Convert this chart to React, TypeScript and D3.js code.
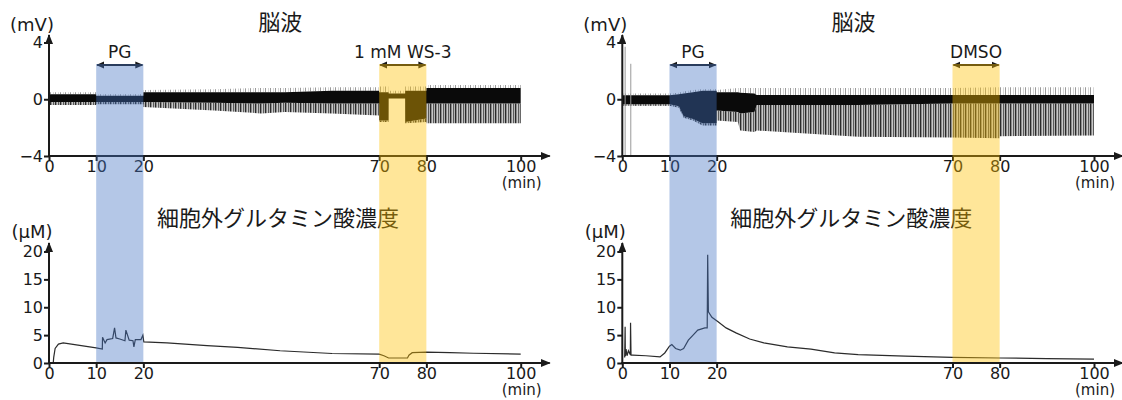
import React, { useRef, useEffect } from 'react';
import * as d3 from 'd3';

const W = 1122;
const H = 400;

// axis ticks
const minuteTicks = [0, 10, 20, 70, 80, 100];
const eegTicks = [-4, 0, 4];
const gluTicks = [0, 5, 10, 15, 20];

// treatment windows (min)
const pgWindow = [10, 20];
const drugWindow = [70, 80];
const drugLabels = ['1 mM WS-3', 'DMSO'];

// EEG envelope, left panel (mV)
const eegTimeL = [0, 10, 10.01, 20, 20.01, 35, 45, 50, 60, 70, 70.01, 72, 72.01, 75.5, 75.51, 80, 80.01, 100];
const eegCoreHiL = [0.35, 0.35, 0.25, 0.25, 0.5, 0.5, 0.5, 0.5, 0.6, 0.6, 0.5, 0.5, 0.4, 0.4, 0.6, 0.6, 0.8, 0.8];
const eegCoreLoL = [-0.2, -0.2, -0.2, -0.2, -0.2, -0.25, -0.3, -0.25, -0.3, -0.3, -1.5, -1.5, 0.05, 0.05, -1.6, -1.35, -0.3, -0.3];
const eegSpikeHiL = [0.5, 0.5, 0.35, 0.35, 0.65, 0.7, 0.8, 0.8, 0.85, 0.85, 0.9, 0.9, 0.6, 0.6, 0.9, 0.9, 1.0, 1.0];
const eegSpikeLoL = [-0.4, -0.4, -0.35, -0.35, -0.55, -0.8, -1.0, -0.9, -1.0, -1.15, -1.6, -1.6, 0.05, 0.05, -1.7, -1.6, -1.7, -1.7];

// EEG envelope, right panel (mV)
const eegTimeR = [0, 10, 12, 13, 15, 17, 20, 20.01, 24.5, 25, 28, 28.5, 50, 70, 80, 80.01, 100];
const eegCoreHiR = [0.28, 0.28, 0.35, 0.4, 0.5, 0.6, 0.6, 0.5, 0.5, 0.45, 0.4, 0.3, 0.3, 0.3, 0.3, 0.3, 0.3];
const eegCoreLoR = [-0.35, -0.35, -0.5, -1.2, -1.4, -1.7, -1.7, -0.8, -0.9, -1.0, -0.9, -0.4, -0.4, -0.3, -0.3, -0.3, -0.3];
const eegSpikeHiR = [0.4, 0.4, 0.45, 0.55, 0.65, 0.7, 0.7, 0.65, 0.8, 0.8, 0.8, 0.8, 0.8, 0.8, 0.85, 0.85, 0.85];
const eegSpikeLoR = [-0.45, -0.45, -0.6, -1.3, -1.5, -1.85, -1.85, -1.5, -1.6, -2.2, -2.3, -2.2, -2.65, -2.7, -2.75, -2.6, -2.55];

// isolated tall EEG artefacts, right panel
const artefactTimeR = [0.6, 1.8];
const artefactTopR = [3.7, 2.5];
const artefactBottomR = [-4, -4];

// extracellular glutamate (µM)
const gluTimeL = [0.9, 1.0, 1.3, 2, 3, 10, 11.3, 11.35, 11.9, 12.3, 13.5, 13.9, 14.2, 15, 16.1, 16.3, 17, 17.8, 18.0, 18.3, 19.5, 19.9, 20.1, 25, 33.5, 40, 49, 60, 70, 71, 72, 76, 76.3, 77, 80, 85, 90, 100];
const gluValL = [0.0, 1.0, 2.6, 3.4, 3.6, 2.7, 2.5, 4.6, 3.6, 4.2, 4.4, 6.3, 4.5, 4.3, 4.0, 5.9, 4.1, 4.0, 2.9, 4.2, 4.2, 5.0, 3.8, 3.6, 3.1, 2.8, 2.2, 1.7, 1.6, 1.3, 0.9, 0.9, 1.4, 1.85, 1.95, 1.85, 1.75, 1.6];

const gluTimeR = [0.5, 0.6, 0.65, 0.8, 1.0, 1.3, 1.7, 1.75, 1.85, 2.2, 5, 8, 9, 10, 10.5, 11.3, 12.3, 13, 14, 15, 16, 17.5, 18.0, 18.1, 18.25, 19, 20.3, 22, 24.1, 27, 30, 35, 40, 45, 50, 60, 70, 80, 90, 100];
const gluValR = [1.0, 6.5, 1.2, 2.5, 1.3, 2.2, 1.5, 7.2, 1.4, 1.4, 1.3, 1.1, 1.8, 3.0, 3.3, 2.6, 2.3, 2.6, 4.1, 5.0, 5.9, 6.3, 6.3, 19.4, 9.2, 8.2, 7.4, 6.3, 5.4, 4.3, 3.6, 2.9, 2.5, 1.8, 1.5, 1.25, 1.0, 0.9, 0.8, 0.7];

const panels = [
  {
    x0: 49, label: drugLabels[0],
    eeg: { t: eegTimeL, hi: eegCoreHiL, lo: eegCoreLoL, shi: eegSpikeHiL, slo: eegSpikeLoL },
    art: { t: [] as number[], top: [] as number[], bot: [] as number[] },
    glu: { t: gluTimeL, v: gluValL },
  },
  {
    x0: 622.3, label: drugLabels[1],
    eeg: { t: eegTimeR, hi: eegCoreHiR, lo: eegCoreLoR, shi: eegSpikeHiR, slo: eegSpikeLoR },
    art: { t: artefactTimeR, top: artefactTopR, bot: artefactBottomR },
    glu: { t: gluTimeR, v: gluValR },
  },
];

const LATIN = "'DejaVu Sans', Verdana, sans-serif";
const CJK = "'Noto Sans CJK JP', sans-serif";
const INK = '#1a1a1a';

const App = () => {
  const svgRef = useRef<SVGSVGElement>(null);

  useEffect(() => {
    const svg = d3.select(svgRef.current);
    svg.selectAll('*').remove();

    const defs = svg.append('defs');
    const spk = defs.append('pattern').attr('id', 'spk')
      .attr('patternUnits', 'userSpaceOnUse').attr('width', 5).attr('height', 6);
    spk.append('rect').attr('x', 0).attr('width', 1).attr('height', 6).attr('fill', '#2a2a2a');
    spk.append('rect').attr('x', 1).attr('width', 1).attr('height', 6).attr('fill', '#8c8c8c');
    spk.append('rect').attr('x', 2).attr('width', 1).attr('height', 6).attr('fill', '#c8c8c8');
    spk.append('rect').attr('x', 3).attr('width', 1).attr('height', 6).attr('fill', '#5a5a5a');
    spk.append('rect').attr('x', 4).attr('width', 1).attr('height', 6).attr('fill', '#b4b4b4');
    const spkUp = defs.append('pattern').attr('id', 'spkUp')
      .attr('patternUnits', 'userSpaceOnUse').attr('width', 5).attr('height', 6);
    spkUp.append('rect').attr('x', 0).attr('width', 1).attr('height', 6).attr('fill', '#9a9a9a');
    spkUp.append('rect').attr('x', 3).attr('width', 1).attr('height', 6).attr('fill', '#d6d6d6');

    defs.append('marker').attr('id', 'ax')
      .attr('markerUnits', 'userSpaceOnUse').attr('markerWidth', 10).attr('markerHeight', 8)
      .attr('refX', 9).attr('refY', 4).attr('orient', 'auto')
      .append('path').attr('d', 'M0,0 L10,4 L0,8 Z').attr('fill', INK);
    defs.append('marker').attr('id', 'dbl')
      .attr('markerUnits', 'userSpaceOnUse').attr('markerWidth', 8).attr('markerHeight', 8)
      .attr('refX', 7).attr('refY', 4).attr('orient', 'auto-start-reverse')
      .append('path').attr('d', 'M0,0.5 L8,4 L0,7.5 Z').attr('fill', INK);

    const yE = d3.scaleLinear().domain([-4, 4]).range([156, 42.5]);
    const yG = d3.scaleLinear().domain([0, 20]).range([363, 251.5]);

    panels.forEach((p) => {
      const x = d3.scaleLinear().domain([0, 100]).range([p.x0, p.x0 + 471.7]);
      const g = svg.append('g');

      // EEG trace as envelope
      const rows = p.eeg.t.map((t, i) => ({
        t, hi: p.eeg.hi[i], lo: p.eeg.lo[i], shi: p.eeg.shi[i], slo: p.eeg.slo[i],
      }));
      g.append('path').datum(rows)
        .attr('d', d3.area<any>().x((d) => x(d.t)).y0((d) => yE(d.lo)).y1((d) => yE(d.slo)))
        .attr('fill', 'url(#spk)');
      g.append('path').datum(rows)
        .attr('d', d3.area<any>().x((d) => x(d.t)).y0((d) => yE(d.hi)).y1((d) => yE(d.shi)))
        .attr('fill', 'url(#spkUp)');
      g.append('path').datum(rows)
        .attr('d', d3.area<any>().x((d) => x(d.t)).y0((d) => yE(d.lo)).y1((d) => yE(d.hi)))
        .attr('fill', '#0a0a0a');
      g.selectAll('.art').data(p.art.t).join('line')
        .attr('x1', (d) => x(d)).attr('x2', (d) => x(d))
        .attr('y1', (d, i) => yE(p.art.top[i])).attr('y2', (d, i) => yE(p.art.bot[i]))
        .attr('stroke', '#9a9a9a').attr('stroke-width', 1);

      // glutamate trace
      const gl = p.glu.t.map((t, i) => ({ t, v: p.glu.v[i] }));
      g.append('path').datum(gl)
        .attr('d', d3.line<any>().x((d) => x(d.t)).y((d) => yG(d.v)))
        .attr('fill', 'none').attr('stroke', '#2b2b2b').attr('stroke-width', 1.2);

      // axes
      const axes = [
        { y: yE, ticks: eegTicks, top: 35, base: 156, unit: '(mV)', unitY: 25 },
        { y: yG, ticks: gluTicks, top: 243, base: 363, unit: '(μM)', unitY: 232 },
      ];
      axes.forEach((a) => {
        const ay = g.append('g').attr('transform', `translate(${p.x0},0)`)
          .call(d3.axisLeft(a.y).tickValues(a.ticks).tickSize(5).tickPadding(1).tickFormat(d3.format('d')));
        ay.select('.domain').remove();
        ay.selectAll('line').attr('stroke', INK).attr('stroke-width', 2);
        ay.selectAll('text').attr('font-family', LATIN).attr('font-size', 16).attr('fill', INK);

        const ax = g.append('g').attr('transform', `translate(0,${a.base})`)
          .call(d3.axisBottom(x).tickValues(minuteTicks).tickSize(5).tickPadding(0).tickFormat(d3.format('d')));
        ax.select('.domain').remove();
        ax.selectAll('line').attr('stroke', INK).attr('stroke-width', 2);
        ax.selectAll('text').attr('font-family', LATIN).attr('font-size', 16).attr('fill', INK);

        g.append('line').attr('x1', p.x0).attr('x2', p.x0).attr('y1', a.base + 1).attr('y2', a.top)
          .attr('stroke', INK).attr('stroke-width', 2).attr('marker-end', 'url(#ax)');
        g.append('line').attr('x1', p.x0 - 1).attr('x2', x(100) + 29).attr('y1', a.base).attr('y2', a.base)
          .attr('stroke', INK).attr('stroke-width', 2).attr('marker-end', 'url(#ax)');

        g.append('text').attr('x', p.x0 - 17).attr('y', a.unitY).attr('dy', '0.35em')
          .attr('text-anchor', 'middle').attr('font-family', LATIN).attr('font-size', 18)
          .attr('fill', INK).text(a.unit);
        g.append('text').attr('x', x(100) + 1).attr('y', a.base + 27).attr('dy', '0.35em')
          .attr('text-anchor', 'middle').attr('font-family', LATIN).attr('font-size', 15)
          .attr('fill', INK).text('(min)');
      });

      // titles
      g.append('text').attr('x', x(49)).attr('y', 22).attr('dy', '0.35em')
        .attr('text-anchor', 'middle').attr('font-family', CJK).attr('font-size', 22)
        .attr('fill', INK).text('脳波');
      g.append('text').attr('x', p.x0 + 108).attr('y', 218).attr('dy', '0.35em')
        .attr('font-family', CJK).attr('font-size', 22)
        .attr('fill', INK).text('細胞外グルタミン酸濃度');

      // treatment arrows + labels
      [
        { w: pgWindow, label: 'PG' },
        { w: drugWindow, label: p.label },
      ].forEach((tr) => {
        g.append('line').attr('x1', x(tr.w[0]) + 1).attr('x2', x(tr.w[1]) - 1)
          .attr('y1', 65).attr('y2', 65).attr('stroke', INK).attr('stroke-width', 2)
          .attr('marker-start', 'url(#dbl)').attr('marker-end', 'url(#dbl)');
        g.append('text').attr('x', (x(tr.w[0]) + x(tr.w[1])) / 2).attr('y', 52).attr('dy', '0.35em')
          .attr('text-anchor', 'middle').attr('font-family', LATIN).attr('font-size', 17)
          .attr('fill', INK).text(tr.label);
      });

      // shaded windows on top
      g.append('rect').attr('x', x(pgWindow[0])).attr('width', x(pgWindow[1]) - x(pgWindow[0]))
        .attr('y', 64).attr('height', 298).attr('fill', '#4472c4').attr('opacity', 0.4);
      g.append('rect').attr('x', x(drugWindow[0])).attr('width', x(drugWindow[1]) - x(drugWindow[0]))
        .attr('y', 64).attr('height', 298).attr('fill', '#ffc000').attr('opacity', 0.4);
    });
  }, []);

  return (
    <svg ref={svgRef} width={W} height={H}
      style={{ position: 'absolute', left: 0, top: 0, background: '#fff' }} />
  );
};

export default App;
